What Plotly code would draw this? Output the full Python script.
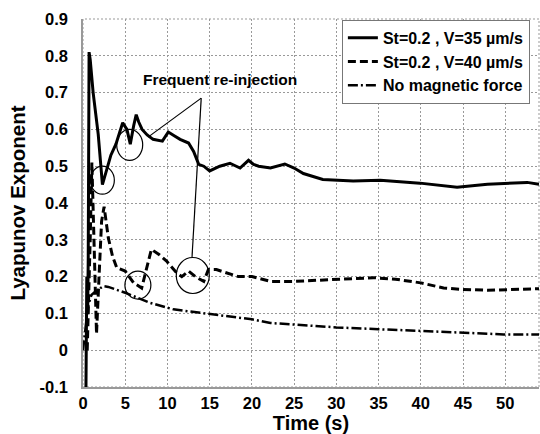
import plotly.graph_objects as go

# ---- data ----
solid_t = [0.35, 0.45, 0.55, 0.62, 0.72, 0.85, 1.2, 1.8, 2.3, 2.8, 3.3, 3.9, 4.3, 4.7, 5.2, 5.6,
           6.0, 6.3, 6.6, 7.0, 7.6, 8.3, 9.4, 10.1, 10.8, 11.5, 12.5, 13.1, 13.7, 14.3, 15.0,
           15.6, 16.2, 17.4, 18.6, 19.6, 20.2, 20.8, 22.2, 23.9, 25.0, 26.1, 28.4, 32.0, 35.2,
           39.9, 44.3, 47.9, 52.6, 54.0]
solid_v = [-0.1, 0.2, 0.1, 0.25, 0.81, 0.79, 0.70, 0.587, 0.45, 0.49, 0.53, 0.56, 0.59, 0.618,
           0.60, 0.56, 0.61, 0.64, 0.62, 0.60, 0.585, 0.573, 0.568, 0.593, 0.583, 0.573, 0.563,
           0.54, 0.505, 0.50, 0.487, 0.493, 0.50, 0.508, 0.495, 0.516, 0.505, 0.50, 0.495,
           0.506, 0.495, 0.48, 0.464, 0.46, 0.462, 0.454, 0.443, 0.451, 0.456, 0.451]

dashed_t = [0.5, 0.7, 0.85, 1.05, 1.3, 1.6, 1.9, 2.2, 2.5, 3.0, 3.5, 4.0, 5.0, 6.0, 6.95, 7.5,
            8.1, 9.0, 9.9, 11.1, 11.7, 12.5, 13.3, 14.3, 14.85, 15.8, 17.0, 18.4, 20.0, 22.2,
            24.9, 30.0, 34.4, 37.0, 40.0, 42.7, 45.0, 47.9, 50.6, 54.0]
dashed_v = [0.0, 0.15, 0.3, 0.51, 0.3, 0.045, 0.2, 0.35, 0.39, 0.305, 0.255, 0.224, 0.215, 0.183,
            0.169, 0.22, 0.274, 0.26, 0.242, 0.21, 0.20, 0.215, 0.20, 0.187, 0.219, 0.219, 0.21,
            0.20, 0.20, 0.187, 0.187, 0.192, 0.197, 0.193, 0.183, 0.169, 0.165, 0.163, 0.165, 0.167]

dashdot_t = [0, 0.3, 0.6, 1.0, 1.5, 2.4, 3.0, 5.0, 7.9, 10.7, 15.0, 20.0, 22.2, 26.1, 30.0, 35.0,
             40.0, 45.0, 49.8, 54.0]
dashdot_v = [0.0, 0.06, 0.12, 0.15, 0.16, 0.174, 0.172, 0.156, 0.129, 0.111, 0.098, 0.084, 0.074,
             0.068, 0.062, 0.057, 0.052, 0.047, 0.043, 0.043]

series_names = ["St=0.2 , V=35 µm/s", "St=0.2 , V=40 µm/s", "No magnetic force"]

x_ticks = [0, 5, 10, 15, 20, 25, 30, 35, 40, 45, 50]
x_tick_labels = ["0", "5", "10", "15", "20", "25", "30", "35", "40", "45", "50"]
y_ticks = [-0.1, 0, 0.1, 0.2, 0.3, 0.4, 0.5, 0.6, 0.7, 0.8, 0.9]
y_tick_labels = ["-0.1", "0", "0.1", "0.2", "0.3", "0.4", "0.5", "0.6", "0.7", "0.8", "0.9"]

annotation_text = "Frequent re-injection"
# circled regions: (t, value, half-width px, half-height px)
circles = [(2.29, 0.462, 12, 14), (5.53, 0.558, 13, 15.5), (6.5, 0.177, 13, 14), (13.0, 0.203, 16.5, 18)]
label_pos = (16.2, 0.736)
pointer_start = (14.0, 0.685)
pointer_ends = [(7.70, 0.579), (12.91, 0.253)]

FONT = "Liberation Sans, Arial, sans-serif"

fig = go.Figure()
fig.add_trace(go.Scatter(x=solid_t, y=solid_v, mode="lines", name=series_names[0],
                         line=dict(color="black", width=3)))
fig.add_trace(go.Scatter(x=dashed_t, y=dashed_v, mode="lines", name=series_names[1],
                         line=dict(color="black", width=3, dash="8px,4px")))
fig.add_trace(go.Scatter(x=dashdot_t, y=dashdot_v, mode="lines", name=series_names[2],
                         line=dict(color="black", width=2.5, dash="10px,3px,2px,3px")))

shapes = []
# dotted frame
shapes.append(dict(type="rect", xref="paper", yref="paper", x0=0, x1=1, y0=0, y1=1,
                   line=dict(color="#999", width=1, dash="2px,2px"), layer="below"))
for (cx, cy, rx, ry) in circles:
    shapes.append(dict(type="circle", xref="x", yref="y", xsizemode="pixel", ysizemode="pixel",
                       xanchor=cx, yanchor=cy, x0=-rx, x1=rx, y0=-ry, y1=ry,
                       line=dict(color="black", width=1.2)))
for (ex, ey) in pointer_ends:
    shapes.append(dict(type="line", xref="x", yref="y", x0=pointer_start[0], y0=pointer_start[1],
                       x1=ex, y1=ey, line=dict(color="black", width=1.2)))

fig.update_layout(
    width=540, height=434, autosize=False,
    margin=dict(l=83, r=1, t=19, b=47, autoexpand=False),
    paper_bgcolor="white", plot_bgcolor="white",
    font=dict(family=FONT, color="black"),
    showlegend=True,
    legend=dict(x=0.98, y=0.998, xanchor="right", yanchor="top",
                bgcolor="white", bordercolor="#777", borderwidth=1,
                font=dict(family=FONT, size=16, color="black", weight="bold"),
                tracegroupgap=0, itemwidth=30),
    shapes=shapes,
    annotations=[dict(x=label_pos[0], y=label_pos[1], xref="x", yref="y", text=annotation_text,
                      showarrow=False, font=dict(family=FONT, size=15.5, color="black", weight="bold"))],
)
fig.update_xaxes(range=[0, 54], tickvals=x_ticks, ticktext=x_tick_labels, automargin=False,
                 showgrid=True, gridcolor="#999", griddash="2px,2px", gridwidth=1,
                 showline=True, linecolor="#999", linewidth=1.5, zeroline=False,
                 ticks="", tickfont=dict(family=FONT, size=16.5, color="black", weight="bold"),
                 title=dict(text="Time (s)", standoff=4,
                            font=dict(family=FONT, size=20, color="black", weight="bold")))
fig.update_yaxes(range=[-0.1, 0.9], tickvals=y_ticks, ticktext=y_tick_labels, automargin=False,
                 showgrid=True, gridcolor="#999", griddash="2px,2px", gridwidth=1,
                 showline=True, linecolor="#999", linewidth=1.5, zeroline=False,
                 ticks="", ticklabelstandoff=10,
                 tickfont=dict(family=FONT, size=16.5, color="black", weight="bold"),
                 title=dict(text="Lyapunov Exponent", standoff=8,
                            font=dict(family=FONT, size=20.5, color="black", weight="bold")))

fig.write_html("out.html", config={"responsive": False, "displayModeBar": False},
               post_script="document.body.style.margin='0px';document.body.style.overflow='hidden';")
